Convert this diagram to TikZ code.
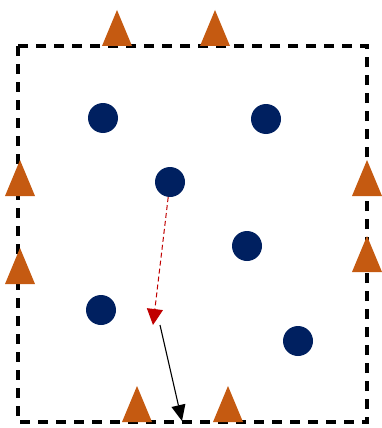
\documentclass[tikz,border=0pt]{standalone}
\usepackage{xcolor}
\usepackage{tikz}
\usetikzlibrary{shapes.geometric, arrows.meta, positioning, calc}
\definecolor{dotnavy}{RGB}{0, 32, 96}
\definecolor{spikerust}{RGB}{197, 90, 17}
\definecolor{stepred}{RGB}{192, 0, 0}

\begin{document}
\begin{tikzpicture}[
    x=1pt, y=-1pt,
    dot/.style={circle, fill=dotnavy, minimum size=30pt, inner sep=0pt},
    spike/.style={isosceles triangle, isosceles triangle stretches, shape border rotate=90, minimum width=30pt, minimum height=36pt, inner sep=0pt, fill=spikerust},
    border/.style={line width=3.5pt, dash pattern=on 10pt off 8pt},
    trial/.style={stepred, line width=1pt, dash pattern=on 5pt off 3pt, -{Triangle[width=16pt, length=16pt]}},
    move/.style={line width=1.1pt, black, -{Triangle[width=14pt, length=16pt]}}
]
    \useasboundingbox (0,0) rectangle (381,428);

    % Region boundary
    \draw[border] (18,46) rectangle (367,422);

    % Spikes on the boundary
    \node[spike] (t1) at (117,36) {};
    \node[spike] (t2) at (215,36) {};
    \node[spike] (l1) at (20,186) {};
    \node[spike] (l2) at (20,274) {};
    \node[spike] (r1) at (367,186) {};
    \node[spike] (r2) at (367,262) {};
    \node[spike] (b1) at (137,412) {};
    \node[spike] (b2) at (228,412) {};

    % Particles
    \node[dot] (p1) at (103,118) {};
    \node[dot] (p2) at (266,119) {};
    \node[dot] (p3) at (170,182) {};
    \node[dot] (p4) at (247,246) {};
    \node[dot] (p5) at (101,310) {};
    \node[dot] (p6) at (298,341) {};

    % Steps
    \coordinate (trialend) at (153,325);
    \coordinate (movestart) at (160,325);
    \coordinate (moveend) at (182,421);
    \draw[trial] (p3) -- (trialend);
    \draw[move] (movestart) -- (moveend);

\end{tikzpicture}
\end{document}
